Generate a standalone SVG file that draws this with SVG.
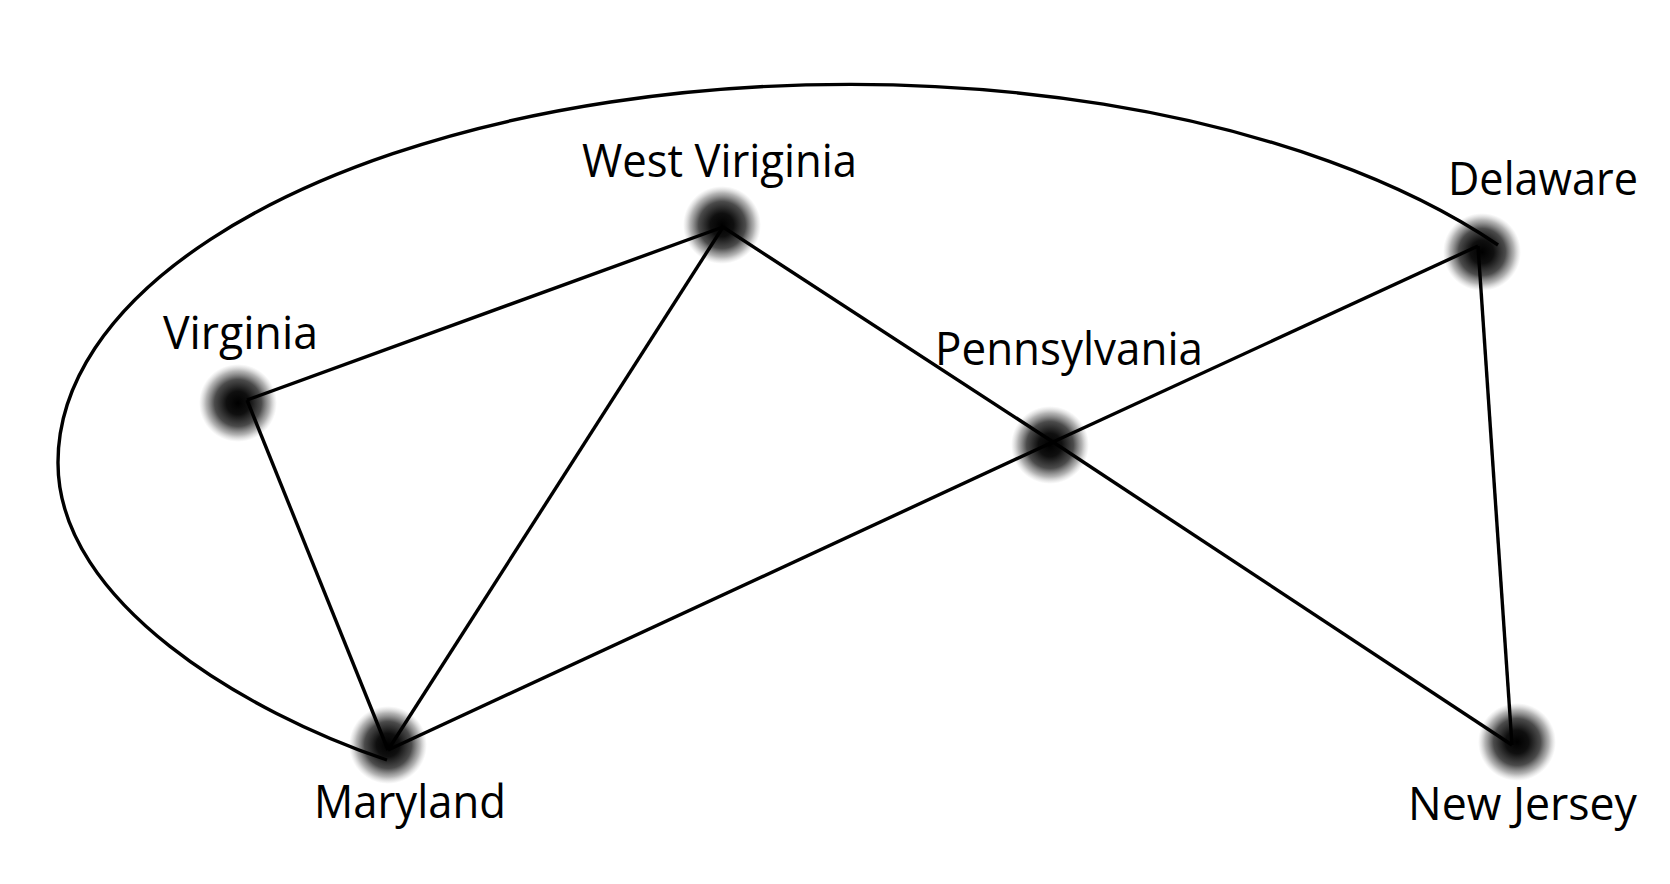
<svg xmlns="http://www.w3.org/2000/svg" width="1670" height="884" viewBox="0 0 1670 884">
<style>
.edge{fill:none;stroke:#000;stroke-width:3.4;stroke-linecap:butt;stroke-linejoin:miter}
.lbl{font-family:"Open Sans","Liberation Sans",sans-serif;font-size:45px;fill:#000}
</style>
<defs>
<radialGradient id="blob" cx="0.5" cy="0.5" r="0.5">
<stop offset="0" stop-color="#000" stop-opacity="1"/>
<stop offset="0.3" stop-color="#080808" stop-opacity="0.97"/>
<stop offset="0.6" stop-color="#1e1e1e" stop-opacity="0.8"/>
<stop offset="0.82" stop-color="#444" stop-opacity="0.4"/>
<stop offset="1" stop-color="#888" stop-opacity="0"/>
</radialGradient>
</defs>
<rect width="1670" height="884" fill="#fff"/>
<g id="nodes-blobs">
<g id="virginia"><circle cx="238" cy="403" r="39" fill="url(#blob)"/><text class="lbl" x="163" y="349" textLength="155" lengthAdjust="spacingAndGlyphs">Virginia</text></g>
<g id="maryland"><circle cx="388" cy="745" r="39" fill="url(#blob)"/><text class="lbl" x="314" y="818" textLength="192" lengthAdjust="spacingAndGlyphs">Maryland</text></g>
<g id="west-viriginia"><circle cx="722" cy="225" r="39" fill="url(#blob)"/><text class="lbl" x="582" y="177" textLength="275" lengthAdjust="spacingAndGlyphs">West Viriginia</text></g>
<g id="pennsylvania"><circle cx="1050" cy="445" r="39" fill="url(#blob)"/><text class="lbl" x="935" y="365" textLength="268" lengthAdjust="spacingAndGlyphs">Pennsylvania</text></g>
<g id="delaware"><circle cx="1482" cy="252" r="39" fill="url(#blob)"/><text class="lbl" x="1448" y="195" textLength="190" lengthAdjust="spacingAndGlyphs">Delaware</text></g>
<g id="new-jersey"><circle cx="1517" cy="742" r="39" fill="url(#blob)"/><text class="lbl" x="1408" y="820" textLength="229" lengthAdjust="spacingAndGlyphs">New Jersey</text></g>
</g>
<g id="connectors">
<path class="edge" d="M387 760 C247 713 58 603 58 463 A792 378 0 0 1 1498 245"/>
<line class="edge" x1="247" y1="400" x2="723" y2="227"/>
<line class="edge" x1="247" y1="400" x2="388" y2="750"/>
<line class="edge" x1="723" y1="227" x2="388" y2="750"/>
<line class="edge" x1="723" y1="227" x2="1053" y2="442"/>
<line class="edge" x1="1053" y1="442" x2="1512" y2="745"/>
<line class="edge" x1="388" y1="750" x2="1053" y2="442"/>
<line class="edge" x1="1053" y1="442" x2="1478" y2="246"/>
<line class="edge" x1="1478" y1="246" x2="1512" y2="745"/>
</g>
</svg>
